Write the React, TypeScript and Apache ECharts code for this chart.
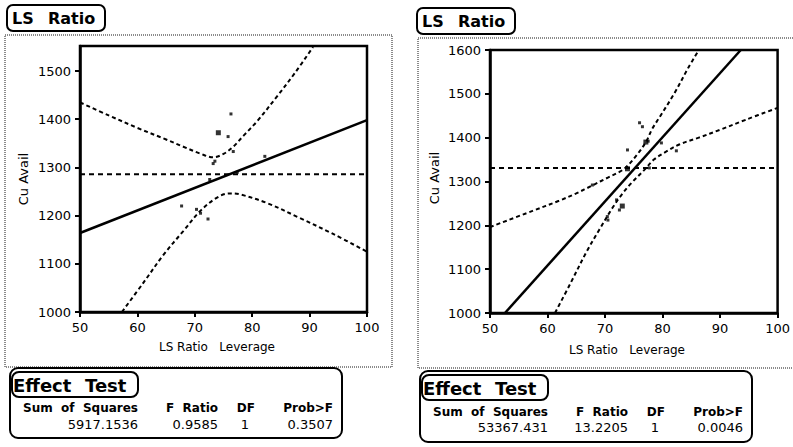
import React, { useEffect, useRef } from "react";
import * as echarts from "echarts";

// ---------- data ----------
const xTicks = [50, 60, 70, 80, 90, 100];
const leftYTicks = [1000, 1100, 1200, 1300, 1400, 1500];
const rightYTicks = [1000, 1100, 1200, 1300, 1400, 1500, 1600];

// Left leverage plot
const leftFit = [[50, 1164], [100, 1398]];
const leftMean = 1286;
const leftUpper = [
  [50, 1435], [55, 1408], [60, 1382], [65, 1358], [68, 1343], [70.9, 1329],
  [73.2, 1321], [75, 1328], [76.7, 1343], [78.5, 1366], [80.8, 1395],
  [84.3, 1447], [87.5, 1497], [90.6, 1550],
];
const leftLower = [
  [57.3, 1000], [61, 1060], [64.5, 1118], [68, 1168], [70.9, 1209], [73.8, 1237],
  [76, 1246], [77.9, 1244], [82.6, 1226], [88.3, 1195], [94.1, 1162], [100, 1125],
];
const leftPoints = [
  [76.3, 1411], [75.8, 1364], [76.7, 1333], [73.2, 1308], [73.5, 1313],
  [82.2, 1323], [77.4, 1290], [72.6, 1275], [67.7, 1220], [70.3, 1213],
  [72.3, 1193], [71, 1205],
];
const leftBigPoints = [[74.1, 1372]];

// Right leverage plot
const rightFit = [[52.6, 1000], [93.6, 1600]];
const rightMean = 1331;
const rightUpper = [
  [50, 1196], [57.4, 1233], [62, 1256], [65, 1273], [67.8, 1291], [70.5, 1309],
  [72.5, 1322], [73.7, 1333], [75.5, 1360], [77.1, 1390], [78.2, 1420],
  [79.4, 1445], [82, 1500], [84.5, 1560], [86.3, 1600],
];
const rightLower = [
  [61.3, 1000], [64, 1068], [66.8, 1140], [69, 1190], [71.3, 1240], [73, 1272],
  [74.7, 1298], [76.8, 1326], [78.5, 1350], [80.6, 1368], [83, 1385],
  [86.3, 1400], [90, 1418], [94.5, 1441], [100, 1468],
];
const rightPoints = [
  [76, 1434], [76.5, 1425], [77.5, 1392], [79.8, 1388], [82.4, 1370],
  [73.9, 1372], [77.7, 1331], [67.8, 1292], [72, 1258], [72.5, 1235],
  [70.5, 1212], [70.4, 1220],
];
const rightBigPoints = [[77.1, 1390], [73.9, 1329], [73, 1244]];

// Effect test tables
const tableHeaders = ["Sum  of  Squares", "F  Ratio", "DF", "Prob>F"];
const leftValues = ["5917.1536", "0.9585", "1", "0.3507"];
const rightValues = ["53367.431", "13.2205", "1", "0.0046"];

const FONT = "DejaVu Sans";

function makeXAxis(gridIndex: number) {
  return {
    type: "value",
    gridIndex,
    min: xTicks[0],
    max: xTicks[xTicks.length - 1],
    interval: 10,
    axisLine: { show: true, lineStyle: { color: "#000", width: 2.5 } },
    axisTick: { show: true, length: 5, lineStyle: { color: "#000", width: 2 } },
    axisLabel: {
      color: "#000",
      fontSize: 13,
      fontFamily: FONT,
      margin: 9,
      formatter: (v: number) => String(v),
    },
    splitLine: { show: false },
  };
}

function makeYAxis(gridIndex: number, max: number, ticks: number[]) {
  return {
    type: "value",
    gridIndex,
    min: 1000,
    max,
    interval: 100,
    axisLine: { show: true, lineStyle: { color: "#000", width: 2.5 } },
    axisTick: {
      show: true,
      length: 5,
      customValues: ticks,
      lineStyle: { color: "#000", width: 2 },
    },
    axisLabel: {
      color: "#000",
      fontSize: 13,
      fontFamily: FONT,
      margin: 9,
      customValues: ticks,
      formatter: (v: number) => String(v),
    },
    splitLine: { show: false },
  };
}

function lineSeries(idx: number, data: number[][], dashed: boolean, width: number, smooth = false, dash = [4, 3]) {
  return {
    type: "line",
    xAxisIndex: idx,
    yAxisIndex: idx,
    data,
    symbol: "none",
    smooth: smooth ? 0.35 : false,
    clip: true,
    lineStyle: { color: "#000", width, type: dashed ? dash : "solid" },
    silent: true,
  };
}

function scatterSeries(idx: number, data: number[][], size: number) {
  return {
    type: "scatter",
    xAxisIndex: idx,
    yAxisIndex: idx,
    data,
    symbol: "rect",
    symbolSize: size,
    itemStyle: { color: "#000" },
    silent: true,
  };
}

function tableGraphics(ox: number, headY: number, valY: number, values: string[]) {
  const rights = [ox + 128, ox + 208, ox + 245, ox + 323];
  const els: any[] = [];
  tableHeaders.forEach((h, i) => {
    els.push({
      type: "text",
      x: rights[i],
      y: headY,
      style: {
        text: h,
        fill: "#000",
        font: `bold 12px "${FONT}"`,
        align: "right",
        verticalAlign: "middle",
      },
    });
  });
  values.forEach((v, i) => {
    els.push({
      type: "text",
      x: i === 2 ? rights[i] - 6 : rights[i],
      y: valY,
      style: {
        text: v,
        fill: "#000",
        font: `13px "${FONT}"`,
        align: "right",
        verticalAlign: "middle",
      },
    });
  });
  return els;
}

function titleBox(x: number, y: number) {
  return [
    {
      type: "rect",
      shape: { x, y, width: 98, height: 26, r: 6 },
      style: { fill: "#fff", stroke: "#000", lineWidth: 2 },
    },
    {
      type: "text",
      x: x + 5,
      y: y + 13,
      style: { text: "LS", fill: "#000", font: `bold 16px "${FONT}"`, verticalAlign: "middle" },
    },
    {
      type: "text",
      x: x + 41,
      y: y + 13,
      style: { text: "Ratio", fill: "#000", font: `bold 16px "${FONT}"`, verticalAlign: "middle" },
    },
  ];
}

function effectBox(x: number, y: number, h: number) {
  return [
    {
      type: "rect",
      shape: { x, y, width: 332, height: h, r: 8 },
      style: { fill: "#fff", stroke: "#000", lineWidth: 2 },
    },
    {
      type: "rect",
      shape: { x: x + 2, y: y + 4, width: 126, height: 25, r: 7 },
      style: { fill: "#fff", stroke: "#000", lineWidth: 2 },
    },
    {
      type: "text",
      x: x + 3,
      y: y + 17,
      style: { text: "Effect", fill: "#000", font: `bold 18px "${FONT}"`, verticalAlign: "middle" },
    },
    {
      type: "text",
      x: x + 75,
      y: y + 17,
      style: { text: "Test", fill: "#000", font: `bold 18px "${FONT}"`, verticalAlign: "middle" },
    },
  ];
}

export default function App() {
  const ref = useRef<HTMLDivElement>(null);

  useEffect(() => {
    if (!ref.current) return;
    const chart = echarts.init(ref.current, null, { renderer: "svg" });

    const graphic: any[] = [
      // dotted outer frames
      {
        type: "rect",
        z: -10,
        shape: { x: 5, y: 35, width: 387, height: 332 },
        style: { fill: "none", stroke: "#666", lineWidth: 1.5, lineDash: [1, 1] },
      },
      {
        type: "rect",
        z: -10,
        shape: { x: 418, y: 38, width: 390, height: 330 },
        style: { fill: "none", stroke: "#666", lineWidth: 1.5, lineDash: [1, 1] },
      },
      ...titleBox(7, 5),
      ...titleBox(417, 8),
      // axis names
      {
        type: "text",
        x: 23,
        y: 179,
        rotation: Math.PI / 2,
        style: { text: "Cu Avail", fill: "#000", font: `13px "${FONT}"`, align: "center", verticalAlign: "middle" },
      },
      {
        type: "text",
        x: 434,
        y: 178,
        rotation: Math.PI / 2,
        style: { text: "Cu Avail", fill: "#000", font: `13px "${FONT}"`, align: "center", verticalAlign: "middle" },
      },
      {
        type: "text",
        x: 217,
        y: 347,
        style: { text: "LS Ratio   Leverage", fill: "#000", font: `12px "${FONT}"`, align: "center", verticalAlign: "middle" },
      },
      {
        type: "text",
        x: 627,
        y: 350,
        style: { text: "LS Ratio   Leverage", fill: "#000", font: `12px "${FONT}"`, align: "center", verticalAlign: "middle" },
      },
      ...effectBox(10, 368, 70),
      ...effectBox(420, 371, 71),
      ...tableGraphics(10, 408, 424, leftValues),
      ...tableGraphics(420, 412, 427, rightValues),
    ];

    chart.setOption({
      animation: false,
      backgroundColor: "#fff",
      grid: [
        { left: 80, top: 46, width: 287, height: 266, show: true, borderColor: "#000", borderWidth: 2.5, backgroundColor: "transparent" },
        { left: 490, top: 50, width: 290, height: 263, show: true, borderColor: "#000", borderWidth: 2.5, backgroundColor: "transparent" },
      ],
      xAxis: [makeXAxis(0), makeXAxis(1)],
      yAxis: [makeYAxis(0, 1552, leftYTicks), makeYAxis(1, 1600, rightYTicks)],
      series: [
        lineSeries(0, leftFit, false, 2.5),
        lineSeries(0, [[50, leftMean], [100, leftMean]], true, 2, false, [5, 4]),
        lineSeries(0, leftUpper, true, 2, true),
        lineSeries(0, leftLower, true, 2, true),
        scatterSeries(0, leftPoints, 3),
        scatterSeries(0, leftBigPoints, 5),
        lineSeries(1, rightFit, false, 2.5),
        lineSeries(1, [[50, rightMean], [100, rightMean]], true, 2, false, [5, 4]),
        lineSeries(1, rightUpper, true, 2, true),
        lineSeries(1, rightLower, true, 2, true),
        scatterSeries(1, rightPoints, 3),
        scatterSeries(1, rightBigPoints, 5),
      ],
      graphic,
    });

    return () => chart.dispose();
  }, []);

  return <div ref={ref} style={{ width: 793, height: 447, position: "absolute", left: 0, top: 0 }} />;
}
